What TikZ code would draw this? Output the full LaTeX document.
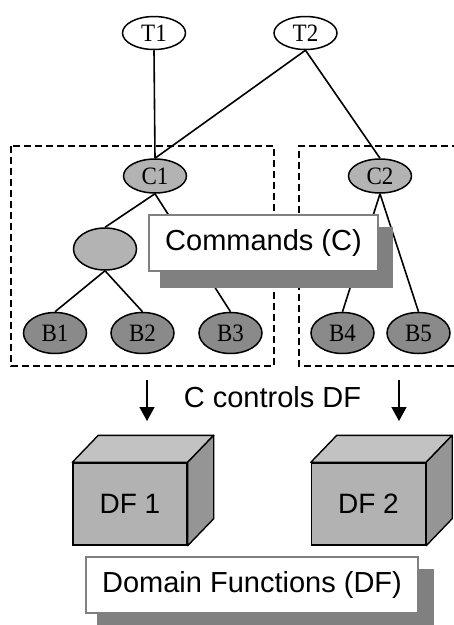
\documentclass[tikz,border=0pt]{standalone}
\usepackage{fontspec}
\setmainfont[FakeStretch=0.92]{Liberation Serif}
\newfontfamily\arialfont{Liberation Sans}
\usetikzlibrary{shapes.geometric,arrows.meta,calc}

\definecolor{lightfill}{HTML}{B3B3B3}
\definecolor{darkfill}{HTML}{8A8A8A}
\definecolor{shadowgray}{HTML}{808080}
\definecolor{cubetop}{HTML}{C2C2C2}
\definecolor{cubefront}{HTML}{B2B2B2}
\definecolor{cubeside}{HTML}{959595}

\tikzset{
  oval/.style={ellipse, draw=black, line width=1.5pt, inner sep=0pt,
    minimum width=63pt, font=\fontsize{25}{25}\selectfont},
  task/.style={oval, fill=white, minimum height=33pt},
  cmdnode/.style={oval, fill=lightfill, minimum height=34pt},
  midnode/.style={oval, fill=lightfill, minimum height=42pt},
  basic/.style={oval, fill=darkfill, minimum height=41pt},
  link/.style={line width=1.6pt},
  group/.style={line width=1.6pt, dash pattern=on 7pt off 4pt},
  labelbox/.style={draw=shadowgray, line width=1.3pt, fill=white, inner sep=0pt,
    font=\arialfont\fontsize{29}{29}\selectfont},
  cubeface/.style={draw=black, line width=1.4pt},
  ctrl/.style={line width=1.5pt, -{Triangle[length=14pt,width=15pt]}},
}

\begin{document}
\begin{tikzpicture}[x=1pt,y=-1pt]
\useasboundingbox (0,0) rectangle (454,625);
\clip (0,0) rectangle (454,625);

% command groups
\draw[group] (11,146) rectangle (274,366);
\draw[group] (470,146) -- (299,146) -- (299,366) -- (470,366);

% tasks
\node[task] (t1) at (154,33) {T1};
\node[task] (t2) at (305.5,33) {T2};

% commands
\node[cmdnode] (c1) at (155,176) {C1};
\node[cmdnode] (c2) at (380,176) {C2};
\node[midnode] (m) at (105,249) {};

% basic commands
\node[basic] (b1) at (55,333) {B1};
\node[basic] (b2) at (142.5,333) {B2};
\node[basic] (b3) at (230.5,333) {B3};
\node[basic] (b4) at (342.5,333) {B4};
\node[basic] (b5) at (418.5,333) {B5};

% hierarchy links
\draw[link] (t1.south) -- (c1.north);
\draw[link] (t2.south) -- (c1.north);
\draw[link] (t2.south) -- (c2.north);
\draw[link] (c1.south) -- (m.north);
\draw[link] (c1.south) -- (b3.north);
\draw[link] (m.south) -- (b1.north);
\draw[link] (m.south) -- (b2.north);
\draw[link] (c2.south) -- (b4.north);
\draw[link] (c2.south) -- (b5.north);

% "Commands (C)" label with drop shadow
\node[labelbox, minimum width=229pt, minimum height=56pt] (cmd) at (263.5,243) {};
\fill[shadowgray] ([shift={(12,13)}]cmd.north west) rectangle ([shift={(14,16)}]cmd.south east);
\node[labelbox, minimum width=229pt, minimum height=56pt] at (cmd.center) {Commands (C)};

% control arrows
\coordinate (a1s) at (147,380);
\coordinate (a1e) at (147,421);
\coordinate (a2s) at (399,380);
\coordinate (a2e) at (399,421);
\draw[ctrl] (a1s) -- (a1e);
\draw[ctrl] (a2s) -- (a2e);
\node[font=\arialfont\fontsize{29}{29}\selectfont] (ctl) at (272.5,397) {C controls DF};

% domain function cubes
\foreach \n/\cx/\lab in {df1/130/DF 1, df2/368.5/DF 2}{
  \node[cubeface, fill=cubefront, minimum width=114pt, minimum height=82pt, inner sep=0pt,
        font=\arialfont\fontsize{28}{28}\selectfont] (\n) at (\cx,504) {\lab};
  \draw[cubeface, fill=cubetop, line join=round] (\n.north west) -- ++(26,-27) -- ($(\n.north east)+(26,-27)$) -- (\n.north east) -- cycle;
  \draw[cubeface, fill=cubeside, line join=round] (\n.north east) -- ++(26,-27) -- ($(\n.south east)+(26,-27)$) -- (\n.south east) -- cycle;
}

% "Domain Functions (DF)" label with drop shadow
\node[labelbox, minimum width=332pt, minimum height=56pt] (dom) at (252,585) {};
\fill[shadowgray] ([shift={(12,13)}]dom.north west) rectangle ([shift={(15,14)}]dom.south east);
\node[labelbox, minimum width=332pt, minimum height=56pt] at (dom.center) {Domain Functions (DF)};
\end{tikzpicture}
\end{document}
